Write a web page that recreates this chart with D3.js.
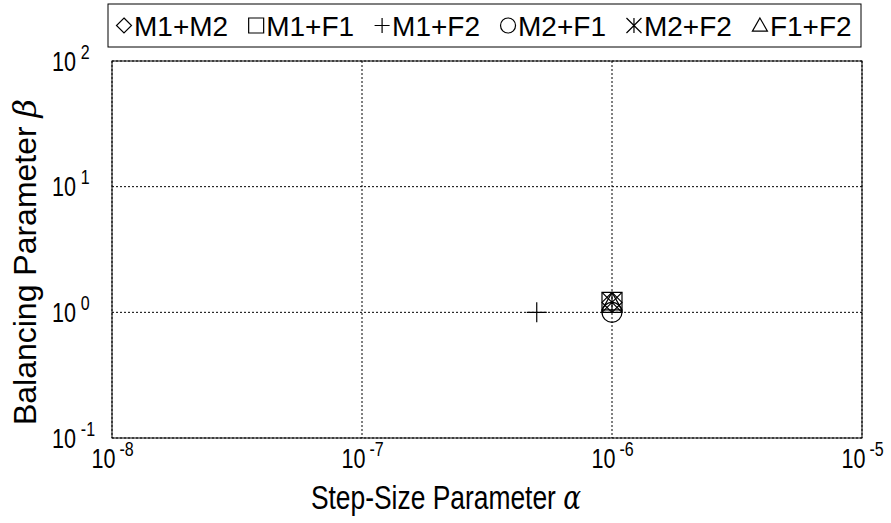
<!DOCTYPE html>
<html>
<head>
<meta charset="utf-8">
<script src="https://cdn.jsdelivr.net/npm/d3@7"></script>
<style>
  body { margin: 0; background: #fff; }
  text { font-family: "Liberation Sans", Arial, sans-serif; fill: #000; }
</style>
</head>
<body>
<div id="chart"></div>
<script>
// Data
const seriesNames = ["M1+M2", "M1+F1", "M1+F2", "M2+F1", "M2+F2", "F1+F2"];
const alphaValues = [1e-6, 1e-6, 5e-7, 1e-6, 1e-6, 1e-6];
const betaValues  = [1.2, 1.2, 1.0, 1.0, 1.2, 1.2];
const xTickExps = [-8, -7, -6, -5];
const yTickExps = [-1, 0, 1, 2];

// Marker shape for each series (style only)
const markerTypes = ["diamond", "square", "plus", "circle", "star", "triangle"];

// axis text in the reference is a bit condensed
const squeeze = 0.8;

const margin = {top: 61, right: 29, bottom: 85, left: 112},
      W = 891, H = 523,
      width = W - margin.left - margin.right,
      height = H - margin.top - margin.bottom;

const svg = d3.select("#chart")
  .append("svg")
  .attr("width", W)
  .attr("height", H);

const g = svg.append("g")
  .attr("transform", `translate(${margin.left},${margin.top})`);

const x = d3.scaleLog().domain([1e-8, 1e-5]).range([0, width]);
const y = d3.scaleLog().domain([1e-1, 1e2]).range([height, 0]);

// marker path centred at 0,0 with half size r
function markerPath(type, r) {
  const p = d3.path();
  if (type === "diamond") {
    p.moveTo(0, -r); p.lineTo(r, 0); p.lineTo(0, r); p.lineTo(-r, 0); p.closePath();
  } else if (type === "square") {
    p.rect(-r, -r, 2 * r, 2 * r);
  } else if (type === "plus") {
    p.moveTo(-r, 0); p.lineTo(r, 0); p.moveTo(0, -r); p.lineTo(0, r);
  } else if (type === "circle") {
    p.moveTo(r, 0); p.arc(0, 0, r, 0, 2 * Math.PI);
  } else if (type === "star") {
    p.moveTo(-r, -r); p.lineTo(r, r); p.moveTo(r, -r); p.lineTo(-r, r);
    p.moveTo(0, -r); p.lineTo(0, r);
  } else if (type === "triangle") {
    p.moveTo(0, -r); p.lineTo(r, r * 0.75); p.lineTo(-r, r * 0.75); p.closePath();
  }
  return p.toString();
}

// Gridlines (dotted)
g.append("g")
  .selectAll("line")
  .data(xTickExps.map(e => Math.pow(10, e)))
  .enter().append("line")
  .attr("x1", d => x(d)).attr("x2", d => x(d))
  .attr("y1", 0).attr("y2", height)
  .attr("stroke", "#000")
  .attr("stroke-dasharray", "2,2");

g.append("g")
  .selectAll("line")
  .data(yTickExps.map(e => Math.pow(10, e)))
  .enter().append("line")
  .attr("x1", 0).attr("x2", width)
  .attr("y1", d => y(d)).attr("y2", d => y(d))
  .attr("stroke", "#000")
  .attr("stroke-dasharray", "2,2");

// Plot border
g.append("rect")
  .attr("width", width)
  .attr("height", height)
  .attr("fill", "none")
  .attr("stroke", "#000");

// X axis labels 10^n
const xAxis = g.append("g")
  .attr("transform", `translate(0,${height})`)
  .call(d3.axisBottom(x)
    .tickValues(xTickExps.map(e => Math.pow(10, e)))
    .tickSize(0)
    .tickFormat(() => "10"));
xAxis.select(".domain").remove();
xAxis.selectAll(".tick text")
  .attr("y", 30).attr("dy", 0)
  .attr("transform", `scale(${squeeze},1)`)
  .attr("font-size", 27)
  .attr("font-family", null)
  .append("tspan")
  .attr("dy", -12)
  .attr("dx", 5)
  .attr("font-size", 20)
  .text((d, i) => xTickExps[i]);

// Y axis labels 10^n
const yAxis = g.append("g")
  .call(d3.axisLeft(y)
    .tickValues(yTickExps.map(e => Math.pow(10, e)))
    .tickSize(0)
    .tickFormat(() => "10"));
yAxis.select(".domain").remove();
yAxis.selectAll(".tick text")
  .attr("x", -60 / squeeze).attr("dy", 9)
  .attr("transform", `scale(${squeeze},1)`)
  .attr("text-anchor", "start")
  .attr("font-size", 27)
  .attr("font-family", null)
  .append("tspan")
  .attr("dy", -12)
  .attr("dx", 6)
  .attr("font-size", 20)
  .text((d, i) => yTickExps[i]);

// Points
g.selectAll(".pt")
  .data(seriesNames)
  .enter().append("path")
  .attr("class", "pt")
  .attr("transform", (d, i) => `translate(${x(alphaValues[i])},${y(betaValues[i])})`)
  .attr("d", (d, i) => markerPath(markerTypes[i], 10))
  .attr("fill", "none")
  .attr("stroke", "#000")
  .attr("stroke-width", 1.2);

// Axis titles
svg.append("text")
  .attr("transform", `translate(446,509) scale(${squeeze},1)`)
  .attr("text-anchor", "middle")
  .attr("font-size", 33)
  .text("Step-Size Parameter ")
  .append("tspan")
  .attr("font-family", "'DejaVu Serif', serif")
  .attr("font-style", "italic")
  .text("α");

svg.append("text")
  .attr("transform", "translate(36,262) rotate(-90)")
  .attr("text-anchor", "middle")
  .attr("font-size", 32)
  .text("Balancing Parameter ")
  .append("tspan")
  .attr("font-family", "'DejaVu Serif', serif")
  .attr("font-style", "italic")
  .text("β");

// Legend
const legend = svg.append("g");
legend.append("rect")
  .attr("x", 108).attr("y", 4)
  .attr("width", 753).attr("height", 43)
  .attr("fill", "#fff")
  .attr("stroke", "#000");

let lx = 117;
seriesNames.forEach((name, i) => {
  legend.append("path")
    .attr("transform", `translate(${lx + 7},25.5)`)
    .attr("d", markerPath(markerTypes[i], 7.5))
    .attr("fill", "none")
    .attr("stroke", "#000")
    .attr("stroke-width", 1.2);
  const t = legend.append("text")
    .attr("x", lx + 17)
    .attr("y", 35.5)
    .attr("font-size", 28)
    .text(name);
  lx += 17 + t.node().getComputedTextLength() + 21;
});
</script>
</body>
</html>
